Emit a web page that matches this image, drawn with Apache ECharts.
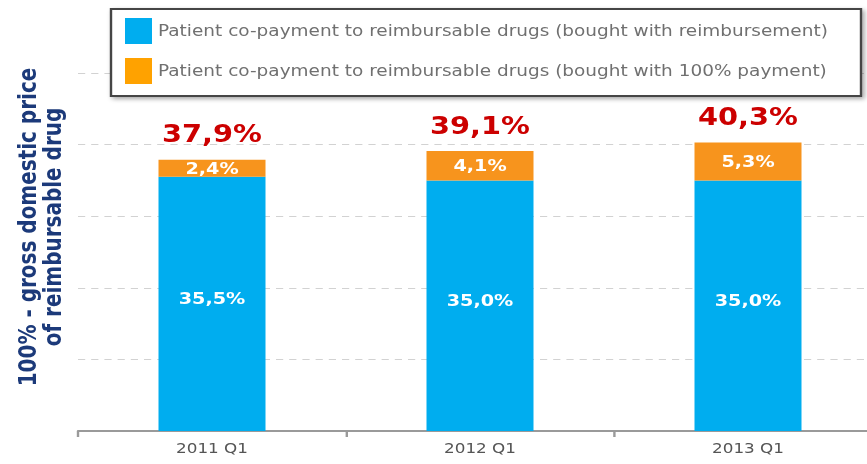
<!DOCTYPE html>
<html>
<head>
<meta charset="utf-8">
<script src="https://cdn.jsdelivr.net/npm/echarts@6/dist/echarts.min.js"></script>
<style>
html,body{margin:0;padding:0;background:#fff;overflow:hidden}
#wrap{width:867px;height:464px;overflow:hidden;position:relative}
#c{width:745px;height:464px;transform:scaleX(1.2);transform-origin:0 0}
</style>
</head>
<body>
<div id="wrap"><div id="c"></div></div>
<script>
const categories = ['2011 Q1', '2012 Q1', '2013 Q1'];
const reimbursed = [35.5, 35.0, 35.0];
const fullPayment = [2.4, 4.1, 5.3];
const totals = [37.9, 39.1, 40.3];
const seriesNames = [
  'Patient co-payment to reimbursable drugs (bought with reimbursement)',
  'Patient co-payment to reimbursable drugs (bought with 100% payment)'
];
const yTitleLines = ['100% - gross domestic price', 'of reimbursable drug'];

const S = 1.2; // the reference is drawn horizontally stretched
const fmt = v => v.toFixed(1).replace('.', ',') + '%';
const chart = echarts.init(document.getElementById('c'), null, {renderer: 'svg'});
chart.setOption({
  animation: false,
  grid: {left: 78 / S, width: 804 / S, top: 73, bottom: 33},
  xAxis: {
    type: 'category', data: categories,
    axisLine: {lineStyle: {color: '#9a9a9a', width: 2}},
    axisTick: {show: true, length: 6, lineStyle: {color: '#9a9a9a', width: 2}},
    axisLabel: {color: '#555', fontSize: 14, fontFamily: 'DejaVu Sans', margin: 10}
  },
  yAxis: {
    type: 'value', min: 0, max: 50, interval: 10,
    axisLabel: {show: false}, axisLine: {show: false}, axisTick: {show: false},
    splitLine: {lineStyle: {color: '#d2d2d2', type: [6, 5], width: 1}}
  },
  legend: {
    orient: 'vertical', left: 125 / S, top: 18, itemWidth: 27 / S, itemHeight: 26, itemGap: 14, itemTextGap: 14 / S,
    padding: 0, z: 20, icon: 'rect',
    textStyle: {color: '#707070', fontSize: 15.4, fontFamily: 'DejaVu Sans'},
    data: [
      {name: seriesNames[0], itemStyle: {color: '#00adef'}},
      {name: seriesNames[1], itemStyle: {color: '#ffa200'}}
    ]
  },
  graphic: [
    {type: 'rect', z: 15, shape: {x: 111 / S, y: 9, width: 750 / S, height: 87},
     style: {fill: '#fff', stroke: '#444', lineWidth: 2, shadowBlur: 4, shadowOffsetX: 2, shadowOffsetY: 2, shadowColor: 'rgba(0,0,0,0.35)'}},
    {type: 'text', z: 15, x: 40 / S, y: 227, rotation: Math.PI / 2,
     style: {text: yTitleLines.join('\n'), fill: '#1c3a7a', font: 'bold 20px "DejaVu Sans"', align: 'center', verticalAlign: 'middle', lineHeight: 21}}
  ],
  series: [
    {name: seriesNames[0], type: 'bar', stack: 's', data: reimbursed, barWidth: 107 / S, barGap: '-100%',
     itemStyle: {color: '#00adef'},
     label: {show: true, position: 'inside', offset: [0, -5], color: '#fff', fontWeight: 'bold', fontSize: 16, fontFamily: 'DejaVu Sans', formatter: p => fmt(p.value)}},
    {name: seriesNames[1], type: 'bar', stack: 's', data: fullPayment, barWidth: 107 / S, barGap: '-100%',
     itemStyle: {color: '#f7941d'},
     label: {show: true, position: 'inside', color: '#fff', fontWeight: 'bold', fontSize: 16, fontFamily: 'DejaVu Sans', formatter: p => fmt(p.value)}},
    {name: 'total', type: 'bar', data: totals, barWidth: 107 / S, barGap: '-100%', silent: true, z: 1,
     itemStyle: {color: 'rgba(0,0,0,0)'},
     label: {show: true, position: 'top', distance: 14, color: '#cc0000', fontWeight: 'bold', fontSize: 24, fontFamily: 'DejaVu Sans', formatter: p => fmt(p.value)}}
  ]
});
</script>
</body>
</html>
